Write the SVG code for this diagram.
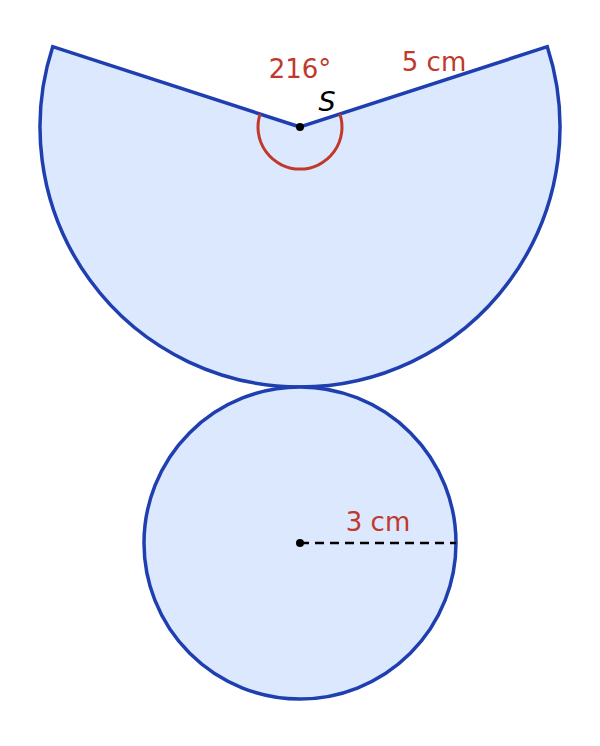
<svg xmlns="http://www.w3.org/2000/svg" width="600" height="746" viewBox="0 0 600 746">
<style>
.shape{fill:#dbe8fd;stroke:#1f3fb0;stroke-width:3.5;stroke-linejoin:miter}
.lbl{font-family:"DejaVu Sans",sans-serif;font-size:26px;fill:#c0392b;text-anchor:middle}
.dot{fill:#000}
</style>
<g id="sector">
<path class="shape" d="M300,127 L52.7,46.7 A260,260 0 1 0 547.3,46.7 Z"/>
</g>
<g id="base">
<circle class="shape" cx="300" cy="543" r="156"/>
</g>
<g id="connectors">
<path d="M260.1,114 A42,42 0 1 0 339.9,114" fill="none" stroke="#c0392b" stroke-width="3"/>
<line x1="300" y1="543" x2="456" y2="543" stroke="#000" stroke-width="2.5" stroke-dasharray="9,6"/>
</g>
<g id="apex">
<circle class="dot" cx="300" cy="127" r="4"/>
<text x="327" y="111" font-family="DejaVu Sans,sans-serif" font-size="27" font-style="italic" text-anchor="middle">S</text>
</g>
<g id="center">
<circle class="dot" cx="300" cy="543" r="4"/>
</g>
<text class="lbl" x="300" y="78">216°</text>
<text class="lbl" x="434" y="71">5 cm</text>
<text class="lbl" x="378" y="531">3 cm</text>
</svg>
